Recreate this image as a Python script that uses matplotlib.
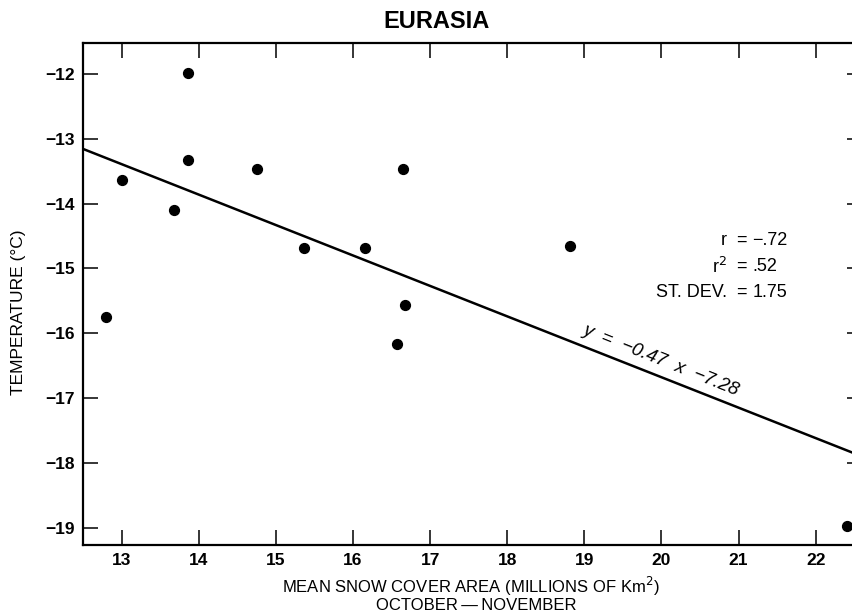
import numpy as np
import matplotlib
matplotlib.use("Agg")
import matplotlib.pyplot as plt

plt.rcParams['font.family'] = ['Liberation Sans', 'DejaVu Sans']

# snow cover (millions of km2) vs temperature (deg C)
snow = [12.80, 13.00, 13.68, 13.86, 13.86, 14.75, 15.36, 16.15, 16.65, 16.67, 16.57, 18.81, 22.40]
temp = [-15.75, -13.63, -14.10, -11.98, -13.32, -13.47, -14.68, -14.68, -13.47, -15.57, -16.17, -14.65, -18.97]

slope = -0.47
intercept = -7.28
xticks = [13, 14, 15, 16, 17, 18, 19, 20, 21, 22]
yticks = [-12, -13, -14, -15, -16, -17, -18, -19]

W, H = 853, 615
fig = plt.figure(figsize=(W / 100, H / 100), dpi=100)
ax = fig.add_axes([83 / W, 1 - 545 / H, (862 - 83) / W, (545 - 43) / H])

ax.scatter(snow, temp, s=50, color='black', zorder=3)

xl = np.array([12.5, 22.65])
ax.plot(xl, slope * xl + intercept, color='black', lw=1.8)

ax.set_xlim(12.5, 22.6)
ax.set_ylim(-19.27, -11.52)
ax.set_xticks(xticks)
ax.set_yticks(yticks)
ax.tick_params(direction='in', length=11, width=1.1, top=True, right=True,
               labelsize=12.5, pad=6)
for lab in ax.get_xticklabels() + ax.get_yticklabels():
    lab.set_fontweight('bold')
for sp in ax.spines.values():
    sp.set_linewidth(1.6)

# title and axis labels placed in pixels like the original
fig.text(437 / W, 1 - 21 / H, 'EURASIA', ha='center', va='center',
         fontsize=17, fontweight='bold')
fig.text(19 / W, 1 - 312 / H, 'TEMPERATURE (°C)', rotation=90,
         ha='center', va='center', fontsize=12.5)
fig.text(471 / W, 1 - 586 / H, 'MEAN SNOW COVER AREA (MILLIONS OF Km$^2$)',
         ha='center', va='center', fontsize=12)
fig.text(476 / W, 1 - 605 / H, 'OCTOBER\u2009\u2014\u2009NOVEMBER',
         ha='center', va='center', fontsize=12)

# statistics block, "=" signs lined up
stats = [('r', '\u2212.72'), ('r$^2$', '.52'), ('ST. DEV.', '1.75')]
ys = [-14.57, -14.97, -15.37]
for (lab, val), yy in zip(stats, ys):
    ax.text(20.85, yy, lab, ha='right', va='center', fontsize=13)
    ax.text(21.03, yy, '=', ha='center', va='center', fontsize=13)
    ax.text(21.18, yy, val, ha='left', va='center', fontsize=13)

ax.text(19.99, -16.42, 'y  =  \u22120.47  x  \u22127.28', rotation=-21.8,
        rotation_mode='anchor', ha='center', va='center', fontsize=13.5,
        style='italic')

fig.savefig('out.png', dpi=100)
